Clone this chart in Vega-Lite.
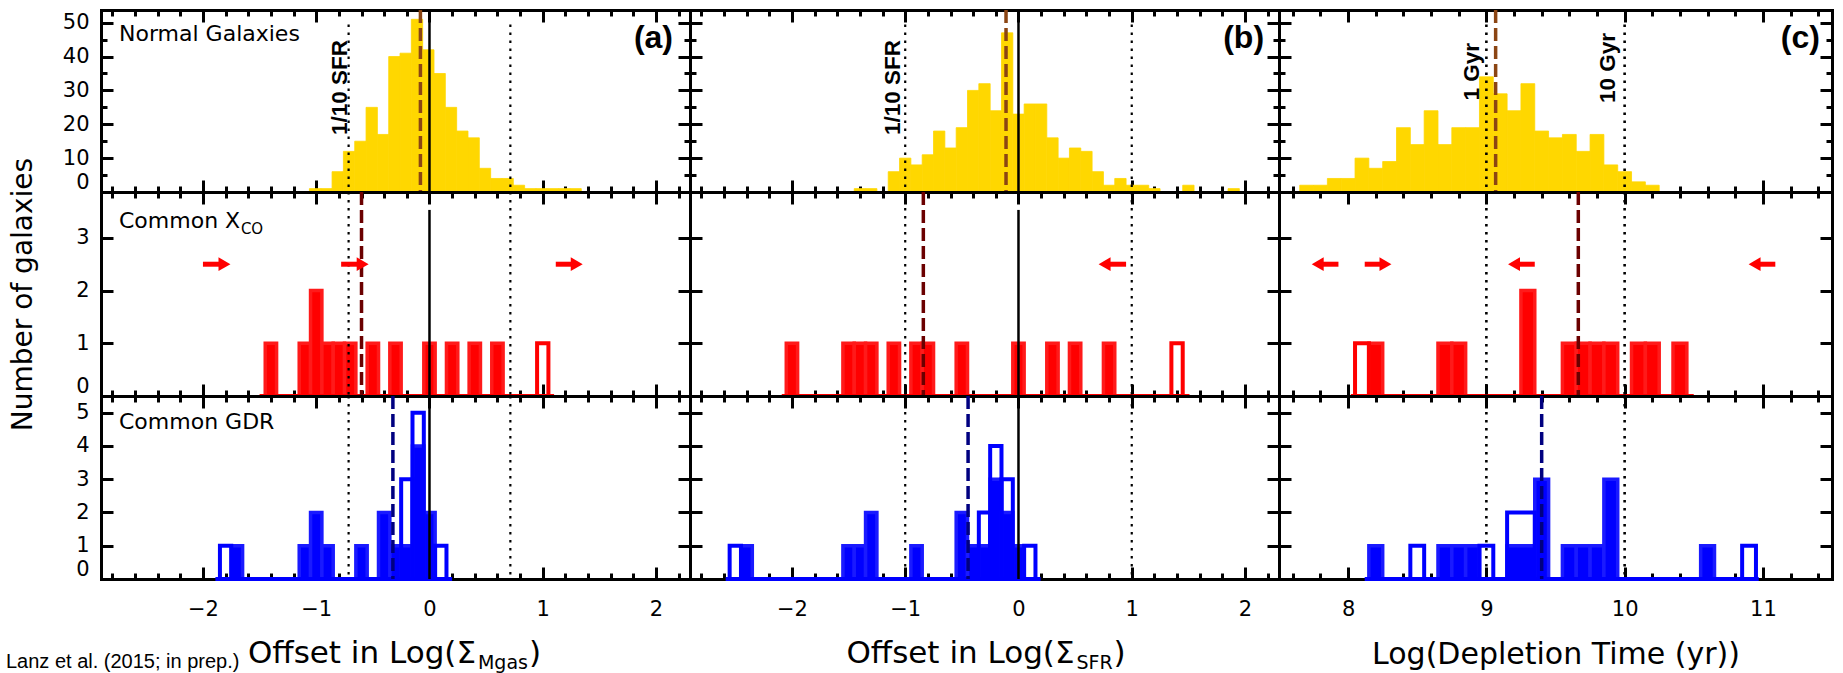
{
"$schema":"https://vega.github.io/schema/vega-lite/v6.json",
"background":"white",
"padding":{"left":5,"top":8,"right":5,"bottom":0},
"columns":3,"spacing":0,"bounds":"flush",
"config":{"font":"DejaVu Sans","view":{"stroke":null},
 "axis":{"domainColor":"black","domainWidth":3,"domainCap":"square","tickColor":"black","tickWidth":3,"grid":false,"labelColor":"black","labelFont":"DejaVu Sans","titleFont":"DejaVu Sans","titleColor":"black","titleFontWeight":"normal","zindex":1}},
"datasets":{
"bars":[
{"p":"a1","x":-1.06,"x2":-0.96,"n":1},{"p":"a1","x":-0.96,"x2":-0.86,"n":1},{"p":"a1","x":-0.86,"x2":-0.76,"n":6},{"p":"a1","x":-0.76,"x2":-0.66,"n":12},{"p":"a1","x":-0.66,"x2":-0.56,"n":15},{"p":"a1","x":-0.56,"x2":-0.46,"n":25},{"p":"a1","x":-0.46,"x2":-0.36,"n":17},{"p":"a1","x":-0.36,"x2":-0.26,"n":40},{"p":"a1","x":-0.26,"x2":-0.16,"n":41},{"p":"a1","x":-0.16,"x2":-0.06,"n":51},{"p":"a1","x":-0.06,"x2":0.04,"n":42},{"p":"a1","x":0.04,"x2":0.14,"n":35},{"p":"a1","x":0.14,"x2":0.24,"n":25},{"p":"a1","x":0.24,"x2":0.34,"n":18},{"p":"a1","x":0.34,"x2":0.44,"n":16},{"p":"a1","x":0.44,"x2":0.54,"n":7},{"p":"a1","x":0.54,"x2":0.64,"n":4},{"p":"a1","x":0.64,"x2":0.74,"n":4},{"p":"a1","x":0.74,"x2":0.84,"n":2},{"p":"a1","x":0.84,"x2":0.94,"n":1},{"p":"a1","x":0.94,"x2":1.04,"n":1},{"p":"a1","x":1.04,"x2":1.14,"n":1},{"p":"a1","x":1.14,"x2":1.24,"n":1},{"p":"a1","x":1.24,"x2":1.34,"n":1},
{"p":"b1","x":-1.45,"x2":-1.35,"n":1},{"p":"b1","x":-1.35,"x2":-1.25,"n":1},{"p":"b1","x":-1.15,"x2":-1.05,"n":6},{"p":"b1","x":-1.05,"x2":-0.95,"n":10},{"p":"b1","x":-0.95,"x2":-0.85,"n":8},{"p":"b1","x":-0.85,"x2":-0.75,"n":11},{"p":"b1","x":-0.75,"x2":-0.65,"n":18},{"p":"b1","x":-0.65,"x2":-0.55,"n":13},{"p":"b1","x":-0.55,"x2":-0.45,"n":19},{"p":"b1","x":-0.45,"x2":-0.35,"n":30},{"p":"b1","x":-0.35,"x2":-0.25,"n":32},{"p":"b1","x":-0.25,"x2":-0.15,"n":24},{"p":"b1","x":-0.15,"x2":-0.05,"n":47},{"p":"b1","x":-0.05,"x2":0.05,"n":23},{"p":"b1","x":0.05,"x2":0.15,"n":26},{"p":"b1","x":0.15,"x2":0.25,"n":26},{"p":"b1","x":0.25,"x2":0.35,"n":16},{"p":"b1","x":0.35,"x2":0.45,"n":10},{"p":"b1","x":0.45,"x2":0.55,"n":13},{"p":"b1","x":0.55,"x2":0.65,"n":12},{"p":"b1","x":0.65,"x2":0.75,"n":6},{"p":"b1","x":0.75,"x2":0.85,"n":2},{"p":"b1","x":0.85,"x2":0.95,"n":4},{"p":"b1","x":0.95,"x2":1.05,"n":2},{"p":"b1","x":1.05,"x2":1.15,"n":2},{"p":"b1","x":1.15,"x2":1.25,"n":1},{"p":"b1","x":1.45,"x2":1.55,"n":2},{"p":"b1","x":1.85,"x2":1.95,"n":1},
{"p":"c1","x":7.65,"x2":7.75,"n":2},{"p":"c1","x":7.75,"x2":7.85,"n":2},{"p":"c1","x":7.85,"x2":7.95,"n":4},{"p":"c1","x":7.95,"x2":8.05,"n":4},{"p":"c1","x":8.05,"x2":8.15,"n":10},{"p":"c1","x":8.15,"x2":8.25,"n":7},{"p":"c1","x":8.25,"x2":8.35,"n":9},{"p":"c1","x":8.35,"x2":8.45,"n":19},{"p":"c1","x":8.45,"x2":8.55,"n":14},{"p":"c1","x":8.55,"x2":8.65,"n":24},{"p":"c1","x":8.65,"x2":8.75,"n":14},{"p":"c1","x":8.75,"x2":8.85,"n":19},{"p":"c1","x":8.85,"x2":8.95,"n":19},{"p":"c1","x":8.95,"x2":9.05,"n":34},{"p":"c1","x":9.05,"x2":9.15,"n":29},{"p":"c1","x":9.15,"x2":9.25,"n":24},{"p":"c1","x":9.25,"x2":9.35,"n":32},{"p":"c1","x":9.35,"x2":9.45,"n":18},{"p":"c1","x":9.45,"x2":9.55,"n":16},{"p":"c1","x":9.55,"x2":9.65,"n":17},{"p":"c1","x":9.65,"x2":9.75,"n":12},{"p":"c1","x":9.75,"x2":9.85,"n":17},{"p":"c1","x":9.85,"x2":9.95,"n":8},{"p":"c1","x":9.95,"x2":10.05,"n":6},{"p":"c1","x":10.05,"x2":10.15,"n":3},{"p":"c1","x":10.15,"x2":10.25,"n":2},
{"p":"a2","x":-1.45,"x2":-1.35,"n":1,"t":1},{"p":"a2","x":-1.15,"x2":-1.05,"n":1,"t":1},{"p":"a2","x":-1.05,"x2":-0.95,"n":2,"t":2},{"p":"a2","x":-0.95,"x2":-0.85,"n":1,"t":1},{"p":"a2","x":-0.85,"x2":-0.75,"n":1,"t":1},{"p":"a2","x":-0.75,"x2":-0.65,"n":1,"t":1},{"p":"a2","x":-0.55,"x2":-0.45,"n":1,"t":1},{"p":"a2","x":-0.35,"x2":-0.25,"n":1,"t":1},{"p":"a2","x":-0.05,"x2":0.05,"n":1,"t":1},{"p":"a2","x":0.15,"x2":0.25,"n":1,"t":1},{"p":"a2","x":0.35,"x2":0.45,"n":1,"t":1},{"p":"a2","x":0.55,"x2":0.65,"n":1,"t":1},{"p":"a2","x":0.95,"x2":1.05,"n":0,"t":1},
{"p":"b2","x":-2.05,"x2":-1.95,"n":1,"t":1},{"p":"b2","x":-1.55,"x2":-1.45,"n":1,"t":1},{"p":"b2","x":-1.45,"x2":-1.35,"n":1,"t":1},{"p":"b2","x":-1.35,"x2":-1.25,"n":1,"t":1},{"p":"b2","x":-1.15,"x2":-1.05,"n":1,"t":1},{"p":"b2","x":-0.95,"x2":-0.85,"n":1,"t":1},{"p":"b2","x":-0.85,"x2":-0.75,"n":1,"t":1},{"p":"b2","x":-0.55,"x2":-0.45,"n":1,"t":1},{"p":"b2","x":-0.05,"x2":0.05,"n":1,"t":1},{"p":"b2","x":0.25,"x2":0.35,"n":1,"t":1},{"p":"b2","x":0.45,"x2":0.55,"n":1,"t":1},{"p":"b2","x":0.75,"x2":0.85,"n":1,"t":1},{"p":"b2","x":1.35,"x2":1.45,"n":0,"t":1},
{"p":"c2","x":8.05,"x2":8.15,"n":0,"t":1},{"p":"c2","x":8.15,"x2":8.25,"n":1,"t":1},{"p":"c2","x":8.65,"x2":8.75,"n":1,"t":1},{"p":"c2","x":8.75,"x2":8.85,"n":1,"t":1},{"p":"c2","x":9.25,"x2":9.35,"n":2,"t":2},{"p":"c2","x":9.55,"x2":9.65,"n":1,"t":1},{"p":"c2","x":9.65,"x2":9.75,"n":1,"t":1},{"p":"c2","x":9.75,"x2":9.85,"n":1,"t":1},{"p":"c2","x":9.85,"x2":9.95,"n":1,"t":1},{"p":"c2","x":10.05,"x2":10.15,"n":1,"t":1},{"p":"c2","x":10.15,"x2":10.25,"n":1,"t":1},{"p":"c2","x":10.35,"x2":10.45,"n":1,"t":1},
{"p":"a3","x":-1.85,"x2":-1.75,"n":0,"t":1},{"p":"a3","x":-1.75,"x2":-1.65,"n":1,"t":1},{"p":"a3","x":-1.15,"x2":-1.05,"n":1,"t":1},{"p":"a3","x":-1.05,"x2":-0.95,"n":2,"t":2},{"p":"a3","x":-0.95,"x2":-0.85,"n":1,"t":1},{"p":"a3","x":-0.65,"x2":-0.55,"n":1,"t":1},{"p":"a3","x":-0.45,"x2":-0.35,"n":2,"t":2},{"p":"a3","x":-0.35,"x2":-0.25,"n":1,"t":1},{"p":"a3","x":-0.25,"x2":-0.15,"n":1,"t":3},{"p":"a3","x":-0.15,"x2":-0.05,"n":4,"t":5},{"p":"a3","x":-0.05,"x2":0.05,"n":2,"t":2},{"p":"a3","x":0.05,"x2":0.15,"n":0,"t":1},
{"p":"b3","x":-2.55,"x2":-2.45,"n":0,"t":1},{"p":"b3","x":-2.45,"x2":-2.35,"n":1,"t":1},{"p":"b3","x":-1.55,"x2":-1.45,"n":1,"t":1},{"p":"b3","x":-1.45,"x2":-1.35,"n":1,"t":1},{"p":"b3","x":-1.35,"x2":-1.25,"n":2,"t":2},{"p":"b3","x":-0.95,"x2":-0.85,"n":1,"t":1},{"p":"b3","x":-0.55,"x2":-0.45,"n":2,"t":2},{"p":"b3","x":-0.45,"x2":-0.35,"n":1,"t":1},{"p":"b3","x":-0.35,"x2":-0.25,"n":1,"t":2},{"p":"b3","x":-0.25,"x2":-0.15,"n":3,"t":4},{"p":"b3","x":-0.15,"x2":-0.05,"n":2,"t":3},{"p":"b3","x":-0.05,"x2":0.05,"n":1,"t":1},{"p":"b3","x":0.05,"x2":0.15,"n":0,"t":1},
{"p":"c3","x":8.15,"x2":8.25,"n":1,"t":1},{"p":"c3","x":8.45,"x2":8.55,"n":0,"t":1},{"p":"c3","x":8.65,"x2":8.75,"n":1,"t":1},{"p":"c3","x":8.75,"x2":8.85,"n":1,"t":1},{"p":"c3","x":8.85,"x2":8.95,"n":1,"t":1},{"p":"c3","x":8.95,"x2":9.05,"n":0,"t":1},{"p":"c3","x":9.15,"x2":9.35,"n":1,"t":2},{"p":"c3","x":9.35,"x2":9.45,"n":3,"t":3},{"p":"c3","x":9.55,"x2":9.65,"n":1,"t":1},{"p":"c3","x":9.65,"x2":9.75,"n":1,"t":1},{"p":"c3","x":9.75,"x2":9.85,"n":1,"t":1},{"p":"c3","x":9.85,"x2":9.95,"n":3,"t":3},{"p":"c3","x":10.55,"x2":10.65,"n":1,"t":1},{"p":"c3","x":10.85,"x2":10.95,"n":0,"t":1}
],
"base":[{"p":"a2","x":-1.5,"x2":1.1},{"p":"b2","x":-2.09,"x2":1.51},{"p":"c2","x":8.02,"x2":10.5},{"p":"a3","x":-1.89,"x2":0.2},{"p":"b3","x":-2.585,"x2":0.195},{"p":"c3","x":8.12,"x2":10.97}],
"vl":[{"c":"a","k":"dot","v":-0.714},{"c":"a","k":"dot","v":0.714},{"c":"a","k":"solid","v":0},{"c":"b","k":"dot","v":-1},{"c":"b","k":"dot","v":1},{"c":"b","k":"solid","v":0},{"c":"c","k":"dot","v":9},{"c":"c","k":"dot","v":10}],
"med":[{"p":"a1","v":-0.08},{"p":"b1","v":-0.11},{"p":"c1","v":9.067},{"p":"a2","v":-0.6},{"p":"b2","v":-0.84},{"p":"c2","v":9.665},{"p":"a3","v":-0.323},{"p":"b3","v":-0.445},{"p":"c3","v":9.4}],
"arr":[{"p":"a2","tail":-2.0,"hc":-1.81,"y":2.5,"d":"r"},{"p":"a2","tail":-0.78,"hc":-0.59,"y":2.5,"d":"r"},{"p":"a2","tail":1.115,"hc":1.3,"y":2.5,"d":"r"},{"p":"b2","tail":0.95,"hc":0.76,"y":2.5,"d":"l"},{"p":"c2","tail":7.93,"hc":7.78,"y":2.5,"d":"l"},{"p":"c2","tail":8.12,"hc":8.27,"y":2.5,"d":"r"},{"p":"c2","tail":9.35,"hc":9.2,"y":2.5,"d":"l"},{"p":"c2","tail":11.09,"hc":10.94,"y":2.5,"d":"l"}]
},
"concat":[
{"width":589,"height":182,"resolve":{"axis":{"x":"independent","y":"independent"}},"layer":[
 {"data":{"name":"bars"},"transform":[{"filter":"datum.p==='a1' && datum.n>0"}],"mark":{"type":"rect","fill":"#FFD700","stroke":"#FFD700","strokeWidth":0.8},
  "encoding":{"x":{"field":"x","type":"quantitative","scale":{"domain":[-2.9,2.3],"nice":false,"zero":false},"axis":{"orient":"bottom","values":[-2.8,-2.6,-2.4,-2.2,-2,-1.8,-1.6,-1.4,-1.2,-1,-0.8,-0.6,-0.4,-0.2,0,0.2,0.4,0.6,0.8,1,1.2,1.4,1.6,1.8,2,2.2],"tickSize":{"condition":{"test":"abs(datum.value-round(datum.value))<0.001","value":-12},"value":-6},"labels":false,"title":null}},"x2":{"field":"x2"},
   "y":{"field":"n","type":"quantitative","scale":{"domain":[0,53.75],"nice":false,"zero":false},"axis":{"orient":"left","values":[0,5,10,15,20,25,30,35,40,45,50],"tickSize":{"condition":{"test":"datum.value % 10 === 0","value":-12},"value":-6},"format":"d","labelExpr":"datum.value % 10 === 0 ? datum.label : ''","labelFontSize":21,"labelPadding":24,"labelFlush":true,"labelOverlap":false,"title":null}},"y2":{"datum":0}}},
 {"data":{"name":"bars"},"transform":[{"filter":"datum.p==='a1' && datum.t>datum.n"}],"mark":{"type":"rect","fill":"#FFD700","fillOpacity":0,"stroke":"#FFD700","strokeWidth":4},
  "encoding":{"x":{"field":"x","type":"quantitative","axis":{"orient":"top","values":[-2.8,-2.6,-2.4,-2.2,-2,-1.8,-1.6,-1.4,-1.2,-1,-0.8,-0.6,-0.4,-0.2,0,0.2,0.4,0.6,0.8,1,1.2,1.4,1.6,1.8,2,2.2],"tickSize":{"condition":{"test":"abs(datum.value-round(datum.value))<0.001","value":-12},"value":-6},"labels":false,"title":null}},"x2":{"field":"x2"},
   "y":{"field":"t","type":"quantitative","axis":{"orient":"right","values":[0,5,10,15,20,25,30,35,40,45,50],"tickSize":{"condition":{"test":"datum.value % 10 === 0","value":-12},"value":-6},"labels":false,"title":null}},"y2":{"datum":0}}},
 {"data":{"name":"vl"},"transform":[{"filter":"datum.c==='a' && datum.k==='dot'"}],"mark":{"type":"rule","color":"black","strokeWidth":2.2,"strokeDash":[2.5,5.5]},"encoding":{"x":{"field":"v","type":"quantitative","axis":null},"y":{"datum":49.5,"type":"quantitative","axis":null},"y2":{"datum":0}}},
 {"data":{"name":"vl"},"transform":[{"filter":"datum.c==='a' && datum.k==='solid'"}],"mark":{"type":"rule","color":"black","strokeWidth":2.5},"encoding":{"x":{"field":"v","type":"quantitative","axis":null}}},
 {"data":{"name":"med"},"transform":[{"filter":"datum.p==='a1'"}],"mark":{"type":"rule","color":"#8B4513","strokeWidth":3.5,"strokeDash":[13,5]},"encoding":{"x":{"field":"v","type":"quantitative","axis":null}}},
 {"data":{"values":[{"x":-2.741,"y":44.68,"s":"Normal Galaxies"}]},"mark":{"type":"text","align":"left","baseline":"alphabetic","font":"DejaVu Sans","fontSize":22,"color":"black"},"encoding":{"x":{"field":"x","type":"quantitative","axis":null},"y":{"field":"y","type":"quantitative","axis":null},"text":{"field":"s"}}},
 {"data":{"values":[{"x":2.15,"y":42.53,"s":"(a)"}]},"mark":{"type":"text","align":"right","baseline":"alphabetic","font":"Liberation Sans","fontWeight":"bold","fontSize":32,"color":"black"},"encoding":{"x":{"field":"x","type":"quantitative","axis":null},"y":{"field":"y","type":"quantitative","axis":null},"text":{"field":"s"}}},
 {"data":{"values":[{"x":-0.728,"y":44.9,"s":"1/10 SFR"}]},"mark":{"type":"text","align":"right","baseline":"alphabetic","angle":270,"font":"Liberation Sans","fontWeight":"bold","fontSize":22.5,"color":"black"},"encoding":{"x":{"field":"x","type":"quantitative","axis":null},"y":{"field":"y","type":"quantitative","axis":null},"text":{"field":"s"}}}
]},
{"width":589,"height":182,"resolve":{"axis":{"x":"independent","y":"independent"}},"layer":[
 {"data":{"name":"bars"},"transform":[{"filter":"datum.p==='b1' && datum.n>0"}],"mark":{"type":"rect","fill":"#FFD700","stroke":"#FFD700","strokeWidth":0.8},
  "encoding":{"x":{"field":"x","type":"quantitative","scale":{"domain":[-2.9,2.3],"nice":false,"zero":false},"axis":{"orient":"bottom","values":[-2.8,-2.6,-2.4,-2.2,-2,-1.8,-1.6,-1.4,-1.2,-1,-0.8,-0.6,-0.4,-0.2,0,0.2,0.4,0.6,0.8,1,1.2,1.4,1.6,1.8,2,2.2],"tickSize":{"condition":{"test":"abs(datum.value-round(datum.value))<0.001","value":-12},"value":-6},"labels":false,"title":null}},"x2":{"field":"x2"},
   "y":{"field":"n","type":"quantitative","scale":{"domain":[0,53.75],"nice":false,"zero":false},"axis":{"orient":"left","values":[0,5,10,15,20,25,30,35,40,45,50],"tickSize":{"condition":{"test":"datum.value % 10 === 0","value":-12},"value":-6},"labels":false,"title":null}},"y2":{"datum":0}}},
 {"data":{"name":"bars"},"transform":[{"filter":"datum.p==='b1' && datum.t>datum.n"}],"mark":{"type":"rect","fill":"#FFD700","fillOpacity":0,"stroke":"#FFD700","strokeWidth":4},
  "encoding":{"x":{"field":"x","type":"quantitative","axis":{"orient":"top","values":[-2.8,-2.6,-2.4,-2.2,-2,-1.8,-1.6,-1.4,-1.2,-1,-0.8,-0.6,-0.4,-0.2,0,0.2,0.4,0.6,0.8,1,1.2,1.4,1.6,1.8,2,2.2],"tickSize":{"condition":{"test":"abs(datum.value-round(datum.value))<0.001","value":-12},"value":-6},"labels":false,"title":null}},"x2":{"field":"x2"},
   "y":{"field":"t","type":"quantitative","axis":{"orient":"right","values":[0,5,10,15,20,25,30,35,40,45,50],"tickSize":{"condition":{"test":"datum.value % 10 === 0","value":-12},"value":-6},"labels":false,"title":null}},"y2":{"datum":0}}},
 {"data":{"name":"vl"},"transform":[{"filter":"datum.c==='b' && datum.k==='dot'"}],"mark":{"type":"rule","color":"black","strokeWidth":2.2,"strokeDash":[2.5,5.5]},"encoding":{"x":{"field":"v","type":"quantitative","axis":null},"y":{"datum":49.5,"type":"quantitative","axis":null},"y2":{"datum":0}}},
 {"data":{"name":"vl"},"transform":[{"filter":"datum.c==='b' && datum.k==='solid'"}],"mark":{"type":"rule","color":"black","strokeWidth":2.5},"encoding":{"x":{"field":"v","type":"quantitative","axis":null}}},
 {"data":{"name":"med"},"transform":[{"filter":"datum.p==='b1'"}],"mark":{"type":"rule","color":"#8B4513","strokeWidth":3.5,"strokeDash":[13,5]},"encoding":{"x":{"field":"v","type":"quantitative","axis":null}}},
 {"data":{"values":[{"x":2.168,"y":42.53,"s":"(b)"}]},"mark":{"type":"text","align":"right","baseline":"alphabetic","font":"Liberation Sans","fontWeight":"bold","fontSize":32,"color":"black"},"encoding":{"x":{"field":"x","type":"quantitative","axis":null},"y":{"field":"y","type":"quantitative","axis":null},"text":{"field":"s"}}},
 {"data":{"values":[{"x":-1.046,"y":44.9,"s":"1/10 SFR"}]},"mark":{"type":"text","align":"right","baseline":"alphabetic","angle":270,"font":"Liberation Sans","fontWeight":"bold","fontSize":22.5,"color":"black"},"encoding":{"x":{"field":"x","type":"quantitative","axis":null},"y":{"field":"y","type":"quantitative","axis":null},"text":{"field":"s"}}}
]},
{"width":553,"height":182,"resolve":{"axis":{"x":"independent","y":"independent"}},"layer":[
 {"data":{"name":"bars"},"transform":[{"filter":"datum.p==='c1' && datum.n>0"}],"mark":{"type":"rect","fill":"#FFD700","stroke":"#FFD700","strokeWidth":0.8},
  "encoding":{"x":{"field":"x","type":"quantitative","scale":{"domain":[7.5,11.5],"nice":false,"zero":false},"axis":{"orient":"bottom","values":[7.6,7.8,8,8.2,8.4,8.6,8.8,9,9.2,9.4,9.6,9.8,10,10.2,10.4,10.6,10.8,11,11.2,11.4],"tickSize":{"condition":{"test":"abs(datum.value-round(datum.value))<0.001","value":-12},"value":-6},"labels":false,"title":null}},"x2":{"field":"x2"},
   "y":{"field":"n","type":"quantitative","scale":{"domain":[0,53.75],"nice":false,"zero":false},"axis":{"orient":"left","values":[0,5,10,15,20,25,30,35,40,45,50],"tickSize":{"condition":{"test":"datum.value % 10 === 0","value":-12},"value":-6},"labels":false,"title":null}},"y2":{"datum":0}}},
 {"data":{"name":"bars"},"transform":[{"filter":"datum.p==='c1' && datum.t>datum.n"}],"mark":{"type":"rect","fill":"#FFD700","fillOpacity":0,"stroke":"#FFD700","strokeWidth":4},
  "encoding":{"x":{"field":"x","type":"quantitative","axis":{"orient":"top","values":[7.6,7.8,8,8.2,8.4,8.6,8.8,9,9.2,9.4,9.6,9.8,10,10.2,10.4,10.6,10.8,11,11.2,11.4],"tickSize":{"condition":{"test":"abs(datum.value-round(datum.value))<0.001","value":-12},"value":-6},"labels":false,"title":null}},"x2":{"field":"x2"},
   "y":{"field":"t","type":"quantitative","axis":{"orient":"right","values":[0,5,10,15,20,25,30,35,40,45,50],"tickSize":{"condition":{"test":"datum.value % 10 === 0","value":-12},"value":-6},"labels":false,"title":null}},"y2":{"datum":0}}},
 {"data":{"name":"vl"},"transform":[{"filter":"datum.c==='c' && datum.k==='dot'"}],"mark":{"type":"rule","color":"black","strokeWidth":2.6,"strokeDash":[2.5,5.5]},"encoding":{"x":{"field":"v","type":"quantitative","axis":null},"y":{"datum":49.5,"type":"quantitative","axis":null},"y2":{"datum":0}}},
 {"data":{"name":"med"},"transform":[{"filter":"datum.p==='c1'"}],"mark":{"type":"rule","color":"#8B4513","strokeWidth":3.5,"strokeDash":[13,5]},"encoding":{"x":{"field":"v","type":"quantitative","axis":null}}},
 {"data":{"values":[{"x":11.413,"y":42.53,"s":"(c)"}]},"mark":{"type":"text","align":"right","baseline":"alphabetic","font":"Liberation Sans","fontWeight":"bold","fontSize":32,"color":"black"},"encoding":{"x":{"field":"x","type":"quantitative","axis":null},"y":{"field":"y","type":"quantitative","axis":null},"text":{"field":"s"}}},
 {"data":{"values":[{"x":8.947,"y":44.0,"s":"1 Gyr"},{"x":9.93,"y":46.95,"s":"10 Gyr"}]},"mark":{"type":"text","align":"right","baseline":"alphabetic","angle":270,"font":"Liberation Sans","fontWeight":"bold","fontSize":22.5,"color":"black"},"encoding":{"x":{"field":"x","type":"quantitative","axis":null},"y":{"field":"y","type":"quantitative","axis":null},"text":{"field":"s"}}}
]},
{"width":589,"height":204,"resolve":{"axis":{"x":"independent","y":"independent"}},"layer":[
 {"data":{"name":"bars"},"transform":[{"filter":"datum.p==='a2' && datum.n>0"}],"mark":{"type":"rect","fill":"#FF0000","stroke":"#FF1A1A","strokeWidth":3.5},
  "encoding":{"x":{"field":"x","type":"quantitative","scale":{"domain":[-2.9,2.3],"nice":false,"zero":false},"axis":{"orient":"bottom","values":[-2.8,-2.6,-2.4,-2.2,-2,-1.8,-1.6,-1.4,-1.2,-1,-0.8,-0.6,-0.4,-0.2,0,0.2,0.4,0.6,0.8,1,1.2,1.4,1.6,1.8,2,2.2],"tickSize":{"condition":{"test":"abs(datum.value-round(datum.value))<0.001","value":-12},"value":-6},"labels":false,"title":null}},"x2":{"field":"x2"},
   "y":{"field":"n","type":"quantitative","scale":{"domain":[0,3.87],"nice":false,"zero":false},"axis":{"orient":"left","values":[0,1,2,3],"tickSize":-12,"format":"d","labelFontSize":21,"labelPadding":24,"labelFlush":true,"labelOverlap":false,"title":"Number of galaxies","titleFontSize":28,"titleX":-78,"titleY":102,"titleAngle":270,"titleAlign":"center","titleBaseline":"middle"}},"y2":{"datum":0}}},
 {"data":{"name":"bars"},"transform":[{"filter":"datum.p==='a2' && datum.t>datum.n"}],"mark":{"type":"rect","fill":"#FF0000","fillOpacity":0,"stroke":"#FF0000","strokeWidth":4},
  "encoding":{"x":{"field":"x","type":"quantitative","axis":{"orient":"top","values":[-2.8,-2.6,-2.4,-2.2,-2,-1.8,-1.6,-1.4,-1.2,-1,-0.8,-0.6,-0.4,-0.2,0,0.2,0.4,0.6,0.8,1,1.2,1.4,1.6,1.8,2,2.2],"tickSize":{"condition":{"test":"abs(datum.value-round(datum.value))<0.001","value":-12},"value":-6},"labels":false,"title":null}},"x2":{"field":"x2"},
   "y":{"field":"t","type":"quantitative","axis":{"orient":"right","values":[0,1,2,3],"tickSize":-12,"labels":false,"title":null}},"y2":{"datum":0}}},
 {"data":{"name":"base"},"transform":[{"filter":"datum.p==='a2'"}],"mark":{"type":"rule","color":"#FF0000","strokeWidth":4},"encoding":{"x":{"field":"x","type":"quantitative","axis":null},"x2":{"field":"x2"},"y":{"datum":0,"type":"quantitative","axis":null}}},
 {"data":{"name":"vl"},"transform":[{"filter":"datum.c==='a' && datum.k==='dot'"}],"mark":{"type":"rule","color":"black","strokeWidth":2.2,"strokeDash":[2.5,5.5]},"encoding":{"x":{"field":"v","type":"quantitative","axis":null}}},
 {"data":{"name":"vl"},"transform":[{"filter":"datum.c==='a' && datum.k==='solid'"}],"mark":{"type":"rule","color":"black","strokeWidth":2.5},"encoding":{"x":{"field":"v","type":"quantitative","axis":null},"y":{"datum":3.53,"type":"quantitative","axis":null},"y2":{"datum":0}}},
 {"data":{"name":"med"},"transform":[{"filter":"datum.p==='a2'"}],"mark":{"type":"rule","color":"#6B0000","strokeWidth":3.5,"strokeDash":[13,5]},"encoding":{"x":{"field":"v","type":"quantitative","axis":null}}},
 {"data":{"name":"arr"},"transform":[{"filter":"datum.p==='a2'"}],"mark":{"type":"rule","color":"#FF0000","strokeWidth":5},"encoding":{"x":{"field":"tail","type":"quantitative","axis":null},"x2":{"field":"hc"},"y":{"field":"y","type":"quantitative","axis":null}}},
 {"data":{"name":"arr"},"transform":[{"filter":"datum.p==='a2'"}],"mark":{"type":"point","filled":true,"color":"#FF0000","opacity":1,"size":190},"encoding":{"x":{"field":"hc","type":"quantitative","axis":null},"y":{"field":"y","type":"quantitative","axis":null},"shape":{"field":"d","type":"nominal","scale":{"domain":["r","l"],"range":["triangle-right","triangle-left"]},"legend":null}}},
 {"data":{"values":[{"x":-2.741,"y":3.188,"s":"Common X"}]},"mark":{"type":"text","align":"left","baseline":"alphabetic","font":"DejaVu Sans","fontSize":22,"color":"black"},"encoding":{"x":{"field":"x","type":"quantitative","axis":null},"y":{"field":"y","type":"quantitative","axis":null},"text":{"field":"s"}}},
 {"data":{"values":[{"x":-1.665,"y":3.074,"s":"CO"}]},"mark":{"type":"text","align":"left","baseline":"alphabetic","font":"DejaVu Sans","fontSize":15,"color":"black"},"encoding":{"x":{"field":"x","type":"quantitative","axis":null},"y":{"field":"y","type":"quantitative","axis":null},"text":{"field":"s"}}}
]},
{"width":589,"height":204,"resolve":{"axis":{"x":"independent","y":"independent"}},"layer":[
 {"data":{"name":"bars"},"transform":[{"filter":"datum.p==='b2' && datum.n>0"}],"mark":{"type":"rect","fill":"#FF0000","stroke":"#FF1A1A","strokeWidth":3.5},
  "encoding":{"x":{"field":"x","type":"quantitative","scale":{"domain":[-2.9,2.3],"nice":false,"zero":false},"axis":{"orient":"bottom","values":[-2.8,-2.6,-2.4,-2.2,-2,-1.8,-1.6,-1.4,-1.2,-1,-0.8,-0.6,-0.4,-0.2,0,0.2,0.4,0.6,0.8,1,1.2,1.4,1.6,1.8,2,2.2],"tickSize":{"condition":{"test":"abs(datum.value-round(datum.value))<0.001","value":-12},"value":-6},"labels":false,"title":null}},"x2":{"field":"x2"},
   "y":{"field":"n","type":"quantitative","scale":{"domain":[0,3.87],"nice":false,"zero":false},"axis":{"orient":"left","values":[0,1,2,3],"tickSize":-12,"labels":false,"title":null}},"y2":{"datum":0}}},
 {"data":{"name":"bars"},"transform":[{"filter":"datum.p==='b2' && datum.t>datum.n"}],"mark":{"type":"rect","fill":"#FF0000","fillOpacity":0,"stroke":"#FF0000","strokeWidth":4},
  "encoding":{"x":{"field":"x","type":"quantitative","axis":{"orient":"top","values":[-2.8,-2.6,-2.4,-2.2,-2,-1.8,-1.6,-1.4,-1.2,-1,-0.8,-0.6,-0.4,-0.2,0,0.2,0.4,0.6,0.8,1,1.2,1.4,1.6,1.8,2,2.2],"tickSize":{"condition":{"test":"abs(datum.value-round(datum.value))<0.001","value":-12},"value":-6},"labels":false,"title":null}},"x2":{"field":"x2"},
   "y":{"field":"t","type":"quantitative","axis":{"orient":"right","values":[0,1,2,3],"tickSize":-12,"labels":false,"title":null}},"y2":{"datum":0}}},
 {"data":{"name":"base"},"transform":[{"filter":"datum.p==='b2'"}],"mark":{"type":"rule","color":"#FF0000","strokeWidth":4},"encoding":{"x":{"field":"x","type":"quantitative","axis":null},"x2":{"field":"x2"},"y":{"datum":0,"type":"quantitative","axis":null}}},
 {"data":{"name":"vl"},"transform":[{"filter":"datum.c==='b' && datum.k==='dot'"}],"mark":{"type":"rule","color":"black","strokeWidth":2.2,"strokeDash":[2.5,5.5]},"encoding":{"x":{"field":"v","type":"quantitative","axis":null}}},
 {"data":{"name":"vl"},"transform":[{"filter":"datum.c==='b' && datum.k==='solid'"}],"mark":{"type":"rule","color":"black","strokeWidth":2.5},"encoding":{"x":{"field":"v","type":"quantitative","axis":null},"y":{"datum":3.53,"type":"quantitative","axis":null},"y2":{"datum":0}}},
 {"data":{"name":"med"},"transform":[{"filter":"datum.p==='b2'"}],"mark":{"type":"rule","color":"#6B0000","strokeWidth":3.5,"strokeDash":[13,5]},"encoding":{"x":{"field":"v","type":"quantitative","axis":null}}},
 {"data":{"name":"arr"},"transform":[{"filter":"datum.p==='b2'"}],"mark":{"type":"rule","color":"#FF0000","strokeWidth":5},"encoding":{"x":{"field":"tail","type":"quantitative","axis":null},"x2":{"field":"hc"},"y":{"field":"y","type":"quantitative","axis":null}}},
 {"data":{"name":"arr"},"transform":[{"filter":"datum.p==='b2'"}],"mark":{"type":"point","filled":true,"color":"#FF0000","opacity":1,"size":190},"encoding":{"x":{"field":"hc","type":"quantitative","axis":null},"y":{"field":"y","type":"quantitative","axis":null},"shape":{"field":"d","type":"nominal","scale":{"domain":["r","l"],"range":["triangle-right","triangle-left"]},"legend":null}}}
]},
{"width":553,"height":204,"resolve":{"axis":{"x":"independent","y":"independent"}},"layer":[
 {"data":{"name":"bars"},"transform":[{"filter":"datum.p==='c2' && datum.n>0"}],"mark":{"type":"rect","fill":"#FF0000","stroke":"#FF1A1A","strokeWidth":3.5},
  "encoding":{"x":{"field":"x","type":"quantitative","scale":{"domain":[7.5,11.5],"nice":false,"zero":false},"axis":{"orient":"bottom","values":[7.6,7.8,8,8.2,8.4,8.6,8.8,9,9.2,9.4,9.6,9.8,10,10.2,10.4,10.6,10.8,11,11.2,11.4],"tickSize":{"condition":{"test":"abs(datum.value-round(datum.value))<0.001","value":-12},"value":-6},"labels":false,"title":null}},"x2":{"field":"x2"},
   "y":{"field":"n","type":"quantitative","scale":{"domain":[0,3.87],"nice":false,"zero":false},"axis":{"orient":"left","values":[0,1,2,3],"tickSize":-12,"labels":false,"title":null}},"y2":{"datum":0}}},
 {"data":{"name":"bars"},"transform":[{"filter":"datum.p==='c2' && datum.t>datum.n"}],"mark":{"type":"rect","fill":"#FF0000","fillOpacity":0,"stroke":"#FF0000","strokeWidth":4},
  "encoding":{"x":{"field":"x","type":"quantitative","axis":{"orient":"top","values":[7.6,7.8,8,8.2,8.4,8.6,8.8,9,9.2,9.4,9.6,9.8,10,10.2,10.4,10.6,10.8,11,11.2,11.4],"tickSize":{"condition":{"test":"abs(datum.value-round(datum.value))<0.001","value":-12},"value":-6},"labels":false,"title":null}},"x2":{"field":"x2"},
   "y":{"field":"t","type":"quantitative","axis":{"orient":"right","values":[0,1,2,3],"tickSize":-12,"labels":false,"title":null}},"y2":{"datum":0}}},
 {"data":{"name":"base"},"transform":[{"filter":"datum.p==='c2'"}],"mark":{"type":"rule","color":"#FF0000","strokeWidth":4},"encoding":{"x":{"field":"x","type":"quantitative","axis":null},"x2":{"field":"x2"},"y":{"datum":0,"type":"quantitative","axis":null}}},
 {"data":{"name":"vl"},"transform":[{"filter":"datum.c==='c' && datum.k==='dot'"}],"mark":{"type":"rule","color":"black","strokeWidth":2.6,"strokeDash":[2.5,5.5]},"encoding":{"x":{"field":"v","type":"quantitative","axis":null}}},
 {"data":{"name":"med"},"transform":[{"filter":"datum.p==='c2'"}],"mark":{"type":"rule","color":"#6B0000","strokeWidth":3.5,"strokeDash":[13,5]},"encoding":{"x":{"field":"v","type":"quantitative","axis":null}}},
 {"data":{"name":"arr"},"transform":[{"filter":"datum.p==='c2'"}],"mark":{"type":"rule","color":"#FF0000","strokeWidth":5},"encoding":{"x":{"field":"tail","type":"quantitative","axis":null},"x2":{"field":"hc"},"y":{"field":"y","type":"quantitative","axis":null}}},
 {"data":{"name":"arr"},"transform":[{"filter":"datum.p==='c2'"}],"mark":{"type":"point","filled":true,"color":"#FF0000","opacity":1,"size":190},"encoding":{"x":{"field":"hc","type":"quantitative","axis":null},"y":{"field":"y","type":"quantitative","axis":null},"shape":{"field":"d","type":"nominal","scale":{"domain":["r","l"],"range":["triangle-right","triangle-left"]},"legend":null}}}
]},
{"width":589,"height":183,"resolve":{"axis":{"x":"independent","y":"independent"}},"layer":[
 {"data":{"name":"bars"},"transform":[{"filter":"datum.p==='a3' && datum.n>0"}],"mark":{"type":"rect","fill":"#0000FF","stroke":"#1A1AFF","strokeWidth":3.5},
  "encoding":{"x":{"field":"x","type":"quantitative","scale":{"domain":[-2.9,2.3],"nice":false,"zero":false},"axis":{"orient":"bottom","values":[-2.8,-2.6,-2.4,-2.2,-2,-1.8,-1.6,-1.4,-1.2,-1,-0.8,-0.6,-0.4,-0.2,0,0.2,0.4,0.6,0.8,1,1.2,1.4,1.6,1.8,2,2.2],"tickSize":{"condition":{"test":"abs(datum.value-round(datum.value))<0.001","value":-12},"value":-6},"labelExpr":"abs(datum.value-round(datum.value))<0.001 ? format(datum.value,'d') : ''","labelFontSize":21,"labelPadding":31,"labelOverlap":false,"title":null}},"x2":{"field":"x2"},
   "y":{"field":"n","type":"quantitative","scale":{"domain":[0,5.5],"nice":false,"zero":false},"axis":{"orient":"left","values":[0,1,2,3,4,5],"tickSize":-12,"format":"d","labelFontSize":21,"labelPadding":24,"labelFlush":true,"labelOverlap":false,"title":null}},"y2":{"datum":0}}},
 {"data":{"name":"bars"},"transform":[{"filter":"datum.p==='a3' && datum.t>datum.n"}],"mark":{"type":"rect","fill":"#0000FF","fillOpacity":0,"stroke":"#0000FF","strokeWidth":4},
  "encoding":{"x":{"field":"x","type":"quantitative","axis":{"orient":"top","values":[-2.8,-2.6,-2.4,-2.2,-2,-1.8,-1.6,-1.4,-1.2,-1,-0.8,-0.6,-0.4,-0.2,0,0.2,0.4,0.6,0.8,1,1.2,1.4,1.6,1.8,2,2.2],"tickSize":{"condition":{"test":"abs(datum.value-round(datum.value))<0.001","value":-12},"value":-6},"labels":false,"title":null}},"x2":{"field":"x2"},
   "y":{"field":"t","type":"quantitative","axis":{"orient":"right","values":[0,1,2,3,4,5],"tickSize":-12,"labels":false,"title":null}},"y2":{"datum":0}}},
 {"data":{"name":"base"},"transform":[{"filter":"datum.p==='a3'"}],"mark":{"type":"rule","color":"#0000FF","strokeWidth":4},"encoding":{"x":{"field":"x","type":"quantitative","axis":null},"x2":{"field":"x2"},"y":{"datum":0,"type":"quantitative","axis":null}}},
 {"data":{"name":"vl"},"transform":[{"filter":"datum.c==='a' && datum.k==='dot'"}],"mark":{"type":"rule","color":"black","strokeWidth":2.2,"strokeDash":[2.5,5.5]},"encoding":{"x":{"field":"v","type":"quantitative","axis":null}}},
 {"data":{"name":"vl"},"transform":[{"filter":"datum.c==='a' && datum.k==='solid'"}],"mark":{"type":"rule","color":"black","strokeWidth":2.5},"encoding":{"x":{"field":"v","type":"quantitative","axis":null}}},
 {"data":{"name":"med"},"transform":[{"filter":"datum.p==='a3'"}],"mark":{"type":"rule","color":"#000080","strokeWidth":3.5,"strokeDash":[13,5]},"encoding":{"x":{"field":"v","type":"quantitative","axis":null}}},
 {"data":{"values":[{"x":-2.741,"y":4.51,"s":"Common GDR"}]},"mark":{"type":"text","align":"left","baseline":"alphabetic","font":"DejaVu Sans","fontSize":22,"color":"black"},"encoding":{"x":{"field":"x","type":"quantitative","axis":null},"y":{"field":"y","type":"quantitative","axis":null},"text":{"field":"s"}}},
 {"data":{"values":[{"x":0.411,"y":-2.525,"s":"Offset in Log(Σ"}]},"mark":{"type":"text","align":"right","baseline":"alphabetic","font":"DejaVu Sans","fontSize":31,"color":"black"},"encoding":{"x":{"field":"x","type":"quantitative","axis":null},"y":{"field":"y","type":"quantitative","axis":null},"text":{"field":"s"}}},
 {"data":{"values":[{"x":0.428,"y":-2.69,"s":"Mgas"}]},"mark":{"type":"text","align":"left","baseline":"alphabetic","font":"DejaVu Sans","fontSize":19,"color":"black"},"encoding":{"x":{"field":"x","type":"quantitative","axis":null},"y":{"field":"y","type":"quantitative","axis":null},"text":{"field":"s"}}},
 {"data":{"values":[{"x":0.879,"y":-2.525,"s":")"}]},"mark":{"type":"text","align":"left","baseline":"alphabetic","font":"DejaVu Sans","fontSize":31,"color":"black"},"encoding":{"x":{"field":"x","type":"quantitative","axis":null},"y":{"field":"y","type":"quantitative","axis":null},"text":{"field":"s"}}},
 {"data":{"values":[{"x":-3.739,"y":-2.675,"s":"Lanz et al. (2015; in prep.)"}]},"mark":{"type":"text","align":"left","baseline":"alphabetic","font":"Liberation Sans","fontSize":20,"color":"black"},"encoding":{"x":{"field":"x","type":"quantitative","axis":null},"y":{"field":"y","type":"quantitative","axis":null},"text":{"field":"s"}}}
]},
{"width":589,"height":183,"resolve":{"axis":{"x":"independent","y":"independent"}},"layer":[
 {"data":{"name":"bars"},"transform":[{"filter":"datum.p==='b3' && datum.n>0"}],"mark":{"type":"rect","fill":"#0000FF","stroke":"#1A1AFF","strokeWidth":3.5},
  "encoding":{"x":{"field":"x","type":"quantitative","scale":{"domain":[-2.9,2.3],"nice":false,"zero":false},"axis":{"orient":"bottom","values":[-2.8,-2.6,-2.4,-2.2,-2,-1.8,-1.6,-1.4,-1.2,-1,-0.8,-0.6,-0.4,-0.2,0,0.2,0.4,0.6,0.8,1,1.2,1.4,1.6,1.8,2,2.2],"tickSize":{"condition":{"test":"abs(datum.value-round(datum.value))<0.001","value":-12},"value":-6},"labelExpr":"abs(datum.value-round(datum.value))<0.001 ? format(datum.value,'d') : ''","labelFontSize":21,"labelPadding":31,"labelOverlap":false,"title":null}},"x2":{"field":"x2"},
   "y":{"field":"n","type":"quantitative","scale":{"domain":[0,5.5],"nice":false,"zero":false},"axis":{"orient":"left","values":[0,1,2,3,4,5],"tickSize":-12,"labels":false,"title":null}},"y2":{"datum":0}}},
 {"data":{"name":"bars"},"transform":[{"filter":"datum.p==='b3' && datum.t>datum.n"}],"mark":{"type":"rect","fill":"#0000FF","fillOpacity":0,"stroke":"#0000FF","strokeWidth":4},
  "encoding":{"x":{"field":"x","type":"quantitative","axis":{"orient":"top","values":[-2.8,-2.6,-2.4,-2.2,-2,-1.8,-1.6,-1.4,-1.2,-1,-0.8,-0.6,-0.4,-0.2,0,0.2,0.4,0.6,0.8,1,1.2,1.4,1.6,1.8,2,2.2],"tickSize":{"condition":{"test":"abs(datum.value-round(datum.value))<0.001","value":-12},"value":-6},"labels":false,"title":null}},"x2":{"field":"x2"},
   "y":{"field":"t","type":"quantitative","axis":{"orient":"right","values":[0,1,2,3,4,5],"tickSize":-12,"labels":false,"title":null}},"y2":{"datum":0}}},
 {"data":{"name":"base"},"transform":[{"filter":"datum.p==='b3'"}],"mark":{"type":"rule","color":"#0000FF","strokeWidth":4},"encoding":{"x":{"field":"x","type":"quantitative","axis":null},"x2":{"field":"x2"},"y":{"datum":0,"type":"quantitative","axis":null}}},
 {"data":{"name":"vl"},"transform":[{"filter":"datum.c==='b' && datum.k==='dot'"}],"mark":{"type":"rule","color":"black","strokeWidth":2.2,"strokeDash":[2.5,5.5]},"encoding":{"x":{"field":"v","type":"quantitative","axis":null}}},
 {"data":{"name":"vl"},"transform":[{"filter":"datum.c==='b' && datum.k==='solid'"}],"mark":{"type":"rule","color":"black","strokeWidth":2.5},"encoding":{"x":{"field":"v","type":"quantitative","axis":null}}},
 {"data":{"name":"med"},"transform":[{"filter":"datum.p==='b3'"}],"mark":{"type":"rule","color":"#000080","strokeWidth":3.5,"strokeDash":[13,5]},"encoding":{"x":{"field":"v","type":"quantitative","axis":null}}},
 {"data":{"values":[{"x":0.495,"y":-2.525,"s":"Offset in Log(Σ"}]},"mark":{"type":"text","align":"right","baseline":"alphabetic","font":"DejaVu Sans","fontSize":31,"color":"black"},"encoding":{"x":{"field":"x","type":"quantitative","axis":null},"y":{"field":"y","type":"quantitative","axis":null},"text":{"field":"s"}}},
 {"data":{"values":[{"x":0.512,"y":-2.69,"s":"SFR"}]},"mark":{"type":"text","align":"left","baseline":"alphabetic","font":"DejaVu Sans","fontSize":19,"color":"black"},"encoding":{"x":{"field":"x","type":"quantitative","axis":null},"y":{"field":"y","type":"quantitative","axis":null},"text":{"field":"s"}}},
 {"data":{"values":[{"x":0.839,"y":-2.525,"s":")"}]},"mark":{"type":"text","align":"left","baseline":"alphabetic","font":"DejaVu Sans","fontSize":31,"color":"black"},"encoding":{"x":{"field":"x","type":"quantitative","axis":null},"y":{"field":"y","type":"quantitative","axis":null},"text":{"field":"s"}}}
]},
{"width":553,"height":183,"resolve":{"axis":{"x":"independent","y":"independent"}},"layer":[
 {"data":{"name":"bars"},"transform":[{"filter":"datum.p==='c3' && datum.n>0"}],"mark":{"type":"rect","fill":"#0000FF","stroke":"#1A1AFF","strokeWidth":3.5},
  "encoding":{"x":{"field":"x","type":"quantitative","scale":{"domain":[7.5,11.5],"nice":false,"zero":false},"axis":{"orient":"bottom","values":[7.6,7.8,8,8.2,8.4,8.6,8.8,9,9.2,9.4,9.6,9.8,10,10.2,10.4,10.6,10.8,11,11.2,11.4],"tickSize":{"condition":{"test":"abs(datum.value-round(datum.value))<0.001","value":-12},"value":-6},"labelExpr":"abs(datum.value-round(datum.value))<0.001 ? format(datum.value,'d') : ''","labelFontSize":21,"labelPadding":31,"labelOverlap":false,"title":"Log(Depletion Time (yr))","titleFontSize":30,"titleX":276.5,"titleY":84,"titleAlign":"center","titleBaseline":"alphabetic","titleAngle":0}},"x2":{"field":"x2"},
   "y":{"field":"n","type":"quantitative","scale":{"domain":[0,5.5],"nice":false,"zero":false},"axis":{"orient":"left","values":[0,1,2,3,4,5],"tickSize":-12,"labels":false,"title":null}},"y2":{"datum":0}}},
 {"data":{"name":"bars"},"transform":[{"filter":"datum.p==='c3' && datum.t>datum.n"}],"mark":{"type":"rect","fill":"#0000FF","fillOpacity":0,"stroke":"#0000FF","strokeWidth":4},
  "encoding":{"x":{"field":"x","type":"quantitative","axis":{"orient":"top","values":[7.6,7.8,8,8.2,8.4,8.6,8.8,9,9.2,9.4,9.6,9.8,10,10.2,10.4,10.6,10.8,11,11.2,11.4],"tickSize":{"condition":{"test":"abs(datum.value-round(datum.value))<0.001","value":-12},"value":-6},"labels":false,"title":null}},"x2":{"field":"x2"},
   "y":{"field":"t","type":"quantitative","axis":{"orient":"right","values":[0,1,2,3,4,5],"tickSize":-12,"labels":false,"title":null}},"y2":{"datum":0}}},
 {"data":{"name":"base"},"transform":[{"filter":"datum.p==='c3'"}],"mark":{"type":"rule","color":"#0000FF","strokeWidth":4},"encoding":{"x":{"field":"x","type":"quantitative","axis":null},"x2":{"field":"x2"},"y":{"datum":0,"type":"quantitative","axis":null}}},
 {"data":{"name":"vl"},"transform":[{"filter":"datum.c==='c' && datum.k==='dot'"}],"mark":{"type":"rule","color":"black","strokeWidth":2.6,"strokeDash":[2.5,5.5]},"encoding":{"x":{"field":"v","type":"quantitative","axis":null}}},
 {"data":{"name":"med"},"transform":[{"filter":"datum.p==='c3'"}],"mark":{"type":"rule","color":"#000080","strokeWidth":3.5,"strokeDash":[13,5]},"encoding":{"x":{"field":"v","type":"quantitative","axis":null}}}
]}
]
}
